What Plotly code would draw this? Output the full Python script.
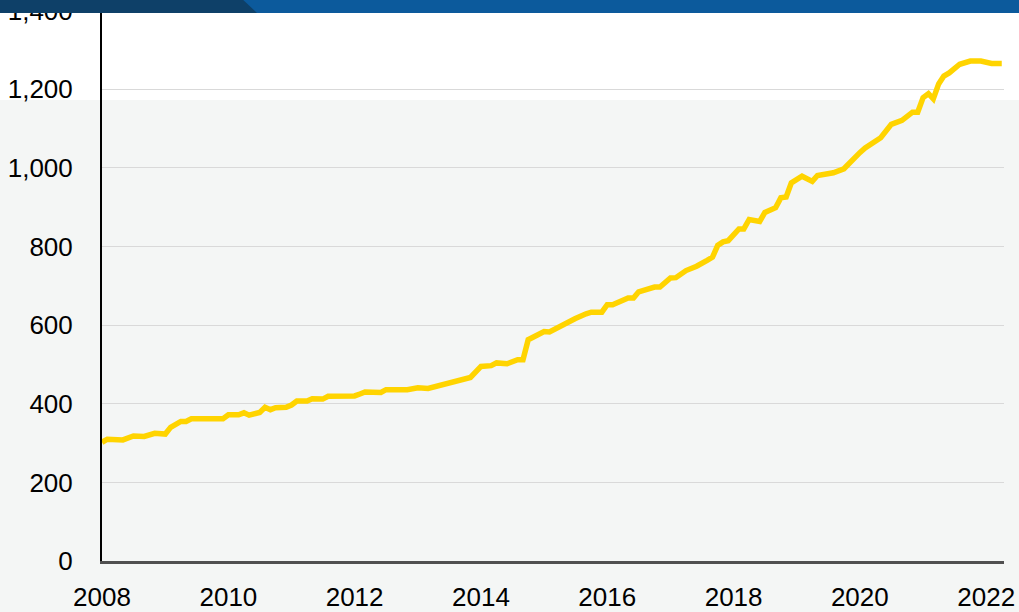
import plotly.graph_objects as go

dates = [
    "2008-01", "2008-02", "2008-05", "2008-07", "2008-09", "2008-11", "2009-01", "2009-02",
    "2009-04", "2009-05", "2009-06", "2009-12", "2010-01", "2010-03", "2010-04", "2010-05",
    "2010-07", "2010-08", "2010-09", "2010-10", "2010-12", "2011-01", "2011-02", "2011-04",
    "2011-05", "2011-07", "2011-08", "2012-01", "2012-02", "2012-03", "2012-06", "2012-07",
    "2012-11", "2013-01", "2013-03", "2013-05", "2013-07", "2013-08", "2013-10", "2013-11",
    "2014-01", "2014-03", "2014-04", "2014-06", "2014-08", "2014-09", "2014-10", "2014-11",
    "2015-01", "2015-02", "2015-05", "2015-07", "2015-09", "2015-10", "2015-12", "2016-01",
    "2016-02", "2016-05", "2016-06", "2016-07", "2016-10", "2016-11", "2017-01", "2017-02",
    "2017-04", "2017-06", "2017-08", "2017-09", "2017-10", "2017-11", "2017-12", "2018-02",
    "2018-03", "2018-04", "2018-06", "2018-07", "2018-09", "2018-10", "2018-11", "2018-12",
    "2019-02", "2019-04", "2019-05", "2019-07", "2019-08", "2019-10", "2019-11", "2020-01",
    "2020-02", "2020-04", "2020-05", "2020-07", "2020-09", "2020-11", "2020-12", "2021-01",
    "2021-02", "2021-03", "2021-04", "2021-05", "2021-06", "2021-08", "2021-10", "2021-12",
    "2022-02", "2022-04",
]
values = [
    302, 310, 308, 318, 317, 325, 323, 340,
    355, 355, 362, 362, 372, 372, 377, 371,
    378, 391, 385, 390, 391, 397, 407, 407,
    413, 412, 419, 420, 425, 430, 429, 436,
    436, 441, 439, 446, 456, 458, 465, 467,
    495, 497, 504, 502, 512, 512, 563, 570,
    584, 583, 604, 617, 629, 633, 633, 652,
    652, 669, 669, 685, 697, 697, 720, 721,
    739, 750, 765, 773, 803, 812, 815, 845,
    845, 869, 864, 887, 899, 924, 926, 962,
    979, 966, 981, 986, 988, 998, 1013, 1039,
    1051, 1068, 1077, 1111, 1121, 1142, 1142, 1179,
    1189, 1176, 1214, 1234, 1242, 1264, 1272, 1272,
    1266, 1266,
]

y_ticks = [0, 200, 400, 600, 800, 1000, 1200, 1400]
x_tick_years = ["2008", "2010", "2012", "2014", "2016", "2018", "2020", "2022"]

FONT = "Liberation Sans Narrow, Arial Narrow, Liberation Sans, sans-serif"
FS = 26

fig = go.Figure()
fig.add_trace(go.Scatter(
    x=dates, y=values, mode="lines",
    line=dict(color="#FFD400", width=5.5, shape="linear"),
    hoverinfo="skip", showlegend=False,
))

W, H = 1019, 612
L, R, T, B = 102, 15, 10, 51
pw, ph = W - L - R, H - T - B

def px(X):
    return (X - L) / pw

def py(Y):
    return (H - B - Y) / ph

shapes = [
    # white band at top of slide
    dict(type="rect", xref="paper", yref="paper", x0=px(-5), x1=px(W + 5), y0=py(100), y1=py(-5),
         fillcolor="white", line=dict(width=0), layer="below"),
    # header bar light blue
    dict(type="rect", xref="paper", yref="paper", x0=px(-5), x1=px(W + 5), y0=py(13), y1=py(-5),
         fillcolor="#0C5A9C", line=dict(width=0), layer="above"),
    # header bar dark blue section
    dict(type="path", xref="paper", yref="paper",
         path=f"M {px(-5)} {py(-5)} L {px(238)} {py(-5)} L {px(257)} {py(13)} L {px(-5)} {py(13)} Z",
         fillcolor="#0E4068", line=dict(width=0), layer="above"),
]

fig.update_layout(
    width=W, height=H,
    margin=dict(l=L, r=R, t=T, b=B, pad=0, autoexpand=False),
    paper_bgcolor="#F4F6F5",
    plot_bgcolor="rgba(0,0,0,0)",
    font=dict(family=FONT, size=FS, color="#000000"),
    shapes=shapes,
    xaxis=dict(
        type="date",
        range=["2008-01-01", "2022-04-14"],
        tickvals=[f"{y}-01-01" for y in x_tick_years],
        ticktext=x_tick_years,
        showgrid=False, zeroline=False, automargin=False,
        showline=True, linecolor="#505050", linewidth=2.5,
        ticks="", ticklabelstandoff=11, ticklabeloverflow="allow",
        tickfont=dict(family=FONT, size=FS, color="#000000"),
    ),
    yaxis=dict(
        range=[0, 1402],
        tickvals=y_ticks,
        tickformat=",",
        showgrid=True, gridcolor="#D9D9D9", gridwidth=1,
        zeroline=False, automargin=False,
        showline=True, linecolor="#000000", linewidth=2,
        ticks="", ticklabelstandoff=22, ticklabeloverflow="allow",
        tickfont=dict(family=FONT, size=FS, color="#000000"),
    ),
)

fig.write_html(
    "out.html",
    config={"displayModeBar": False},
    post_script="document.body.style.margin='0';document.body.style.overflow='hidden';",
)
